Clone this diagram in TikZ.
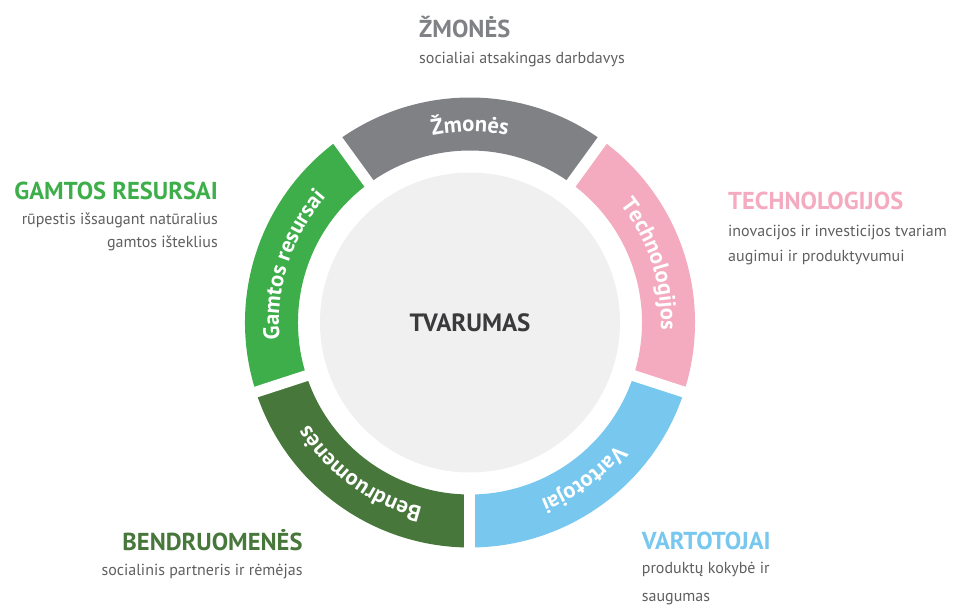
\documentclass[tikz,border=0pt]{standalone}
\usepackage{fontspec}
\setmainfont{PT Sans}
\usetikzlibrary{decorations.text}

\definecolor{zmones}{HTML}{808185}
\definecolor{techno}{HTML}{F5ABBF}
\definecolor{vartot}{HTML}{77C7EF}
\definecolor{bendr}{HTML}{47773A}
\definecolor{gamtos}{HTML}{3DAE49}
\definecolor{corefill}{HTML}{F0F0F0}
\definecolor{coretext}{HTML}{3A3A3C}
\definecolor{subgray}{HTML}{5F5F61}

\begin{document}
\begin{tikzpicture}[x=1pt,y=1pt,
  head/.style={font=\bfseries\fontsize{24.5}{28}\selectfont, inner sep=0pt},
  sub/.style={font=\fontsize{16}{#1}\selectfont, text=subgray, inner sep=0pt},
  sub/.default=24,
  ringlabel/.style={decorate, decoration={text along path, text align=center,
    text color=white, text={|\bfseries\fontsize{22.5}{22}\selectfont|#1}}}]
  \useasboundingbox (-470,-283.5) rectangle (484,322.5);

  % ring segments
  \foreach \ang/\col in {90/zmones, 18/techno, -54/vartot, -126/bendr, 162/gamtos}
    \fill[\col] (\ang-36:172) arc[start angle=\ang-36, end angle=\ang+36, radius=172]
      -- (\ang+36:225) arc[start angle=\ang+36, end angle=\ang-36, radius=225] -- cycle;
  % gaps
  \foreach \g in {54,-18,-90,-162,126}
    \draw[white, line width=11pt] (\g:165) -- (\g:232);

  % labels on the ring
  \path[ringlabel=Žmonės] (126:191) arc[start angle=126, end angle=54, radius=191];
  \path[ringlabel=Technologijos] (54:191) arc[start angle=54, end angle=-18, radius=191];
  \path[ringlabel=Vartotojai] (-18:191) arc[start angle=-18, end angle=-90, radius=191];
  \path[ringlabel=Bendruomenės] (-90:191) arc[start angle=-90, end angle=-162, radius=191];
  \path[ringlabel=Gamtos resursai] (198:191) arc[start angle=198, end angle=126, radius=191];

  \node[circle, fill=corefill, minimum size=300pt, inner sep=0pt, text=coretext,
    font=\bfseries\fontsize{25}{30}\selectfont] (core) at (0,0) {TVARUMAS};

  % outer texts
  \node[head, text=zmones, anchor=base west] (zmonesHead) at (-51,285.2) {ŽMONĖS};
  \node[sub, anchor=base west] (zmonesSub) at (-51,258.5) {socialiai atsakingas darbdavys};

  \node[head, text=gamtos, anchor=base east] (gamtosHead) at (-252,123.2) {GAMTOS RESURSAI};
  \node[sub=23.2, anchor=base east, align=right] (gamtosSub) at (-252,75)
    {rūpestis išsaugant natūralius\\gamtos išteklius};

  \node[head, text=techno, anchor=base west] (technoHead) at (258,113.5) {TECHNOLOGIJOS};
  \node[sub=25, anchor=base west, align=left] (technoSub) at (258,61.5)
    {inovacijos ir investicijos tvariam\\augimui ir produktyvumui};

  \node[head, text=bendr, anchor=base east] (bendrHead) at (-167.3,-227.5) {BENDRUOMENĖS};
  \node[sub, anchor=base east] (bendrSub) at (-167.3,-252.5) {socialinis partneris ir rėmėjas};

  \node[head, text=vartot, anchor=base west] (vartotHead) at (171.7,-226.5) {VARTOTOJAI};
  \node[sub=28, anchor=base west, align=left] (vartotSub) at (171.7,-278.5)
    {produktų kokybė ir\\saugumas};
\end{tikzpicture}
\end{document}
